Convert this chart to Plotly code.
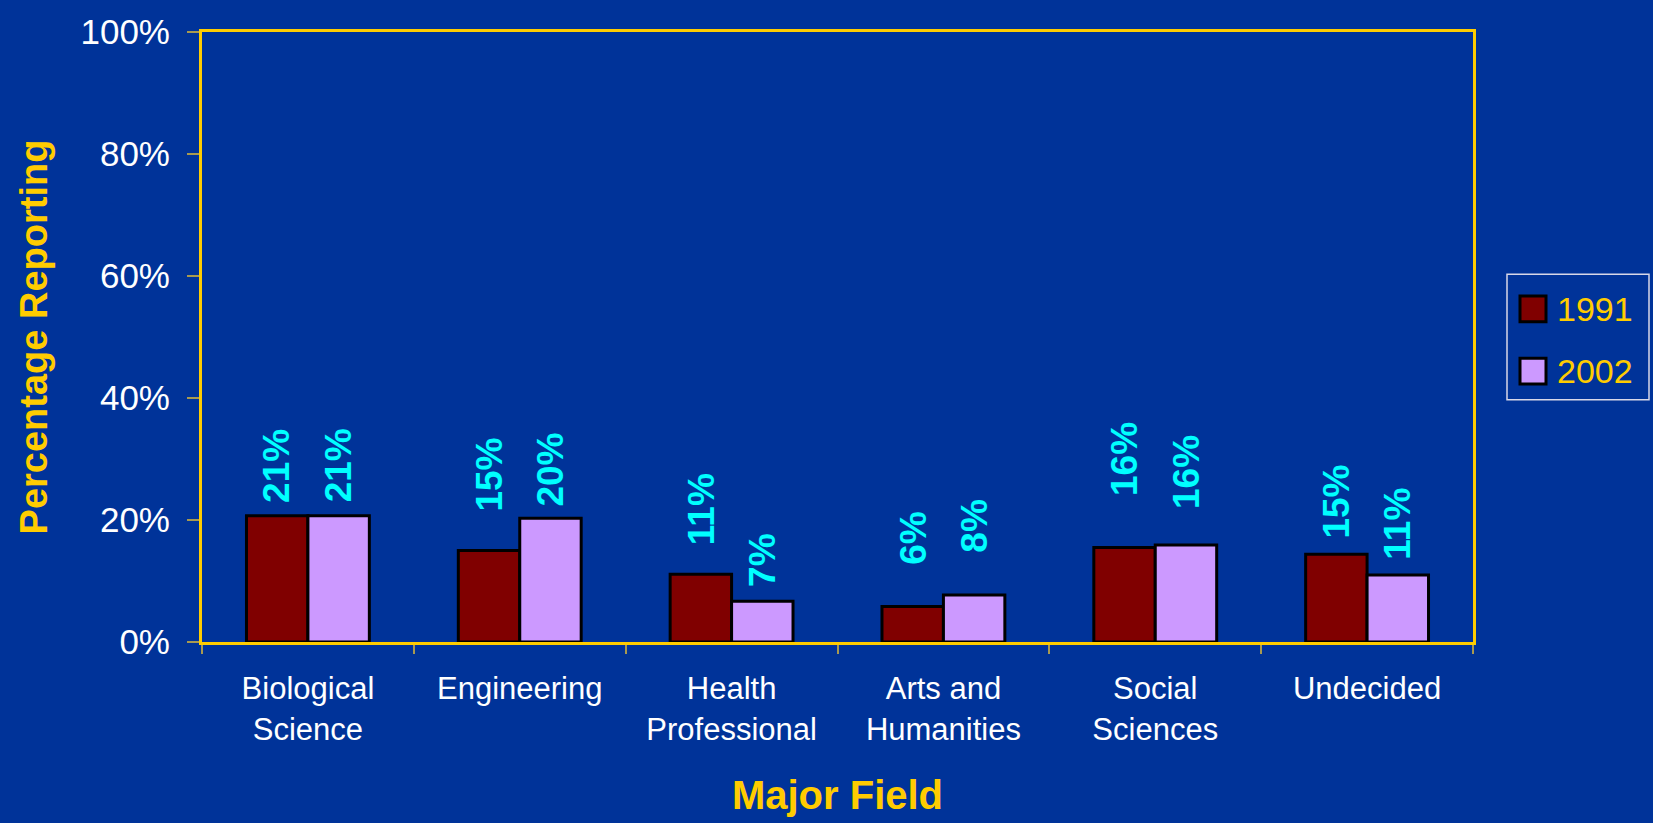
import plotly.graph_objects as go

categories = ["Biological<br>Science", "Engineering", "Health<br>Professional",
              "Arts and<br>Humanities", "Social<br>Sciences", "Undecided"]
series_names = ["1991", "2002"]
values_1991 = [20.7, 15.0, 11.1, 5.8, 15.5, 14.4]
values_2002 = [20.7, 20.3, 6.7, 7.7, 15.9, 11.0]
labels_1991 = ["21%", "15%", "11%", "6%", "16%", "15%"]
labels_2002 = ["21%", "20%", "7%", "8%", "16%", "11%"]
colors = ["#800000", "#CC99FF"]
y_ticks = [0, 20, 40, 60, 80, 100]
y_tick_labels = ["0%", "20%", "40%", "60%", "80%", "100%"]

# label gap above each bar (pixels, styling only)
label_gap_1991 = [11, 37, 27, 40, 49, 14]
label_gap_2002 = [11, 10, 12, 40, 34, 13]

BG = "#003399"
GOLD = "#FFCC00"
FONT = "Liberation Sans, Arial, sans-serif"

W, H = 1653, 823
ML, MR, MT, MB = 202, 180, 26, 180
PW, PH = W - ML - MR, H - MT - MB


def px(x):
    return (x - ML) / PW


def py(y):
    return (H - MB - y) / PH


fig = go.Figure()
offsets = [-30.7, 30.7]
for name, vals, labs, col, off, gaps in zip(series_names, [values_1991, values_2002],
                                            [labels_1991, labels_2002], colors, offsets,
                                            [label_gap_1991, label_gap_2002]):
    fig.add_trace(go.Bar(
        x=categories, y=vals, name=name,
        marker=dict(color=col, line=dict(color="black", width=3)),
        showlegend=False,
    ))
    for c, v, t, g in zip(categories, vals, labs, gaps):
        fig.add_annotation(
            x=c, y=v, xref="x", yref="y", text=t, showarrow=False,
            textangle=-90, xanchor="center", yanchor="bottom",
            xshift=off, yshift=g,
            font=dict(family=FONT, size=37, color="#00FFFF", weight="bold"),
        )

# legend drawn manually (larger swatches than Plotly's legend allows)
shapes = [dict(type="rect", xref="paper", yref="paper",
               x0=px(1507), x1=px(1649), y0=py(398), y1=py(271),
               line=dict(color="#D8D8E8", width=1.5), fillcolor=BG, layer="below")]
sw_y = [(293, 319), (356, 382)]
for (y0, y1), col, name in zip(sw_y, colors, series_names):
    shapes.append(dict(type="rect", xref="paper", yref="paper",
                       x0=px(1520), x1=px(1546), y0=py(y1), y1=py(y0),
                       line=dict(color="black", width=3), fillcolor=col))
    fig.add_annotation(x=px(1555), y=py((y0 + y1) / 2), xref="paper", yref="paper",
                       text=name, showarrow=False, xanchor="left", yanchor="middle",
                       font=dict(family=FONT, size=34, color=GOLD))

fig.update_layout(
    width=W, height=H,
    paper_bgcolor=BG, plot_bgcolor=BG,
    margin=dict(l=ML, r=MR, t=MT, b=MB),
    barmode="group", bargap=0.42, bargroupgap=0,
    font=dict(family=FONT, color="white"),
    showlegend=False,
    shapes=shapes,
)
fig.update_xaxes(
    showline=True, linecolor=GOLD, linewidth=3, mirror=True,
    ticks="outside", tickson="boundaries", ticklen=9, tickcolor="#A89A50",
    tickwidth=1.5, ticklabelstandoff=17,
    tickfont=dict(family=FONT, size=31, color="white"),
    title=dict(text="Major Field", standoff=36,
               font=dict(family=FONT, size=40, color=GOLD, weight="bold")),
    showgrid=False, zeroline=False,
)
fig.update_yaxes(
    range=[0, 100], tickvals=y_ticks, ticktext=y_tick_labels,
    showline=True, linecolor=GOLD, linewidth=3, mirror=True,
    ticks="outside", ticklen=12, tickcolor="#A89A50", tickwidth=1.5,
    ticklabelstandoff=10,
    tickfont=dict(family=FONT, size=35, color="white"),
    title=dict(text="Percentage Reporting", standoff=22,
               font=dict(family=FONT, size=38, color=GOLD, weight="bold")),
    showgrid=False, zeroline=False,
)

fig.write_html("out.html", config={"displayModeBar": False},
               post_script="document.body.style.margin='0';")
